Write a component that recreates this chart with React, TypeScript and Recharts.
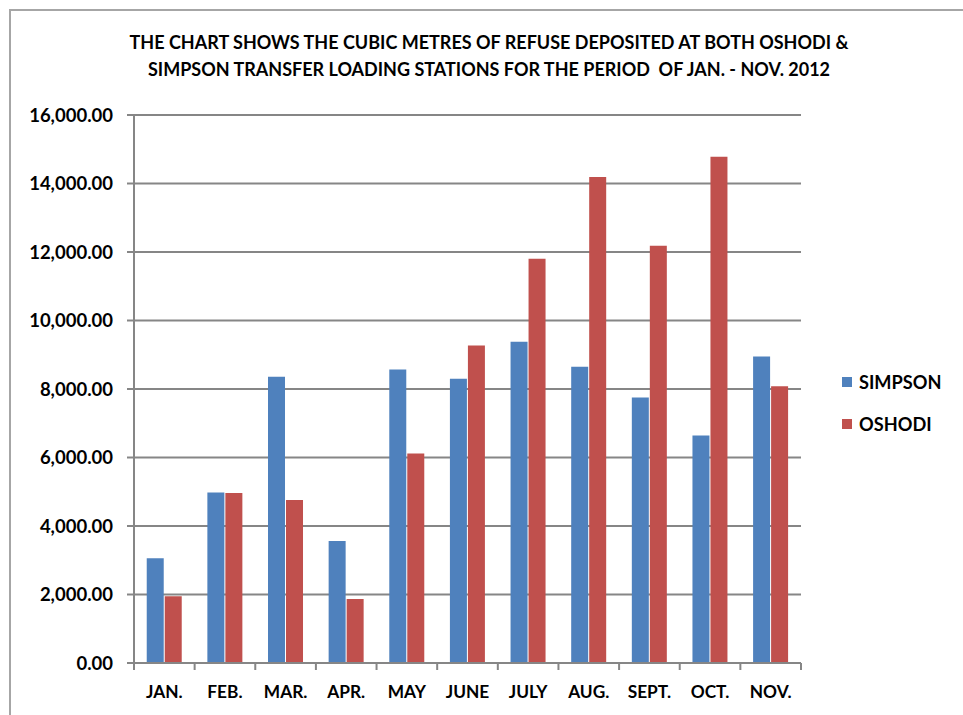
import { BarChart, Bar, XAxis, YAxis, CartesianGrid, Legend } from 'recharts';

const months = ['JAN.', 'FEB.', 'MAR.', 'APR.', 'MAY', 'JUNE', 'JULY', 'AUG.', 'SEPT.', 'OCT.', 'NOV.'];
const simpson = [3060, 4980, 8360, 3560, 8570, 8300, 9380, 8650, 7750, 6640, 8950];
const oshodi = [1950, 4960, 4760, 1870, 6120, 9270, 11800, 14190, 12180, 14780, 8080];
const yTicks = [0, 2000, 4000, 6000, 8000, 10000, 12000, 14000, 16000];
const seriesOrder = ['simpson', 'oshodi'];

const data = months.map((month, i) => ({ month, simpson: simpson[i], oshodi: oshodi[i] }));

const FONT = 'Lato, "Open Sans", sans-serif';
const GRID = '#868686';

const fmt = (v: number) =>
    v.toLocaleString('en-US', { minimumFractionDigits: 2, maximumFractionDigits: 2 });

// Excel puts the x tick marks between the categories, not under them
const MonthTick = ({ x, y, payload, index, visibleTicksCount }: any) => {
    const half = payload.offset || 0;
    const last = index === visibleTicksCount - 1;
    return (
        <g>
            <line x1={x - half} x2={x - half} y1={y - 8} y2={y - 1} stroke={GRID} strokeWidth={2} />
            {last && <line x1={x + half} x2={x + half} y1={y - 8} y2={y - 1} stroke={GRID} strokeWidth={2} />}
            <text x={x} y={y + 27} textAnchor="middle" fontFamily={FONT} fontWeight={700} fontSize={17.3} fill="#000">
                {payload.value}
            </text>
        </g>
    );
};

const LegendBox = ({ payload }: any) => {
    const items = [...(payload || [])].sort(
        (a: any, b: any) => seriesOrder.indexOf(a.dataKey) - seriesOrder.indexOf(b.dataKey)
    );
    return (
        <div style={{ fontFamily: FONT, fontWeight: 700, fontSize: 18.2 }}>
            {items.map((p: any) => (
                <div key={p.value} style={{ display: 'flex', alignItems: 'center', height: 42 }}>
                    <span style={{ width: 10, height: 10, background: p.color, marginRight: 7 }} />
                    <span>{p.value}</span>
                </div>
            ))}
        </div>
    );
};

export default function App() {
    return (
        <div style={{ position: 'absolute', left: 0, top: 0, width: 963, height: 715, background: '#fff', overflow: 'hidden' }}>
            <div
                style={{
                    position: 'absolute',
                    left: 9,
                    top: 9,
                    width: 1000,
                    height: 800,
                    border: '2px solid #a6a6a6',
                    boxSizing: 'border-box',
                }}
            />
            <div
                style={{
                    position: 'absolute',
                    left: 0,
                    top: 29,
                    width: 978,
                    textAlign: 'center',
                    fontFamily: FONT,
                    fontWeight: 700,
                    fontSize: 18,
                    lineHeight: '27px',
                    color: '#000',
                }}
            >
                THE CHART SHOWS THE CUBIC METRES OF REFUSE DEPOSITED AT BOTH OSHODI &amp;
                <br />
                SIMPSON TRANSFER LOADING STATIONS FOR THE PERIOD&nbsp; OF JAN. - NOV. 2012
            </div>
            <div style={{ position: 'absolute', left: 0, top: 0 }}>
                <BarChart
                    width={963}
                    height={715}
                    data={data}
                    margin={{ top: 115, right: 42, bottom: 0, left: 0 }}
                    barCategoryGap="21%"
                    barGap={1}
                >
                    <CartesianGrid vertical={false} stroke={GRID} strokeWidth={2} />
                    <XAxis
                        dataKey="month"
                        height={52}
                        axisLine={{ stroke: GRID, strokeWidth: 2 }}
                        tickLine={false}
                        tick={<MonthTick />}
                        interval={0}
                    />
                    <YAxis
                        width={134}
                        domain={[0, 16000]}
                        ticks={yTicks}
                        tickFormatter={fmt}
                        axisLine={{ stroke: GRID, strokeWidth: 2 }}
                        tickLine={{ stroke: GRID, strokeWidth: 2 }}
                        tickSize={7}
                        tickMargin={14}
                        tick={{ fontFamily: FONT, fontWeight: 700, fontSize: 18.5, fill: '#000' }}
                    />
                    <Legend
                        layout="vertical"
                        align="right"
                        verticalAlign="top"
                        content={<LegendBox />}
                        wrapperStyle={{ left: 842, top: 361, width: 120 }}
                    />
                    <Bar dataKey="simpson" name="SIMPSON" fill="#4f81bd" isAnimationActive={false} />
                    <Bar dataKey="oshodi" name="OSHODI" fill="#c0504d" isAnimationActive={false} />
                </BarChart>
            </div>
        </div>
    );
}
